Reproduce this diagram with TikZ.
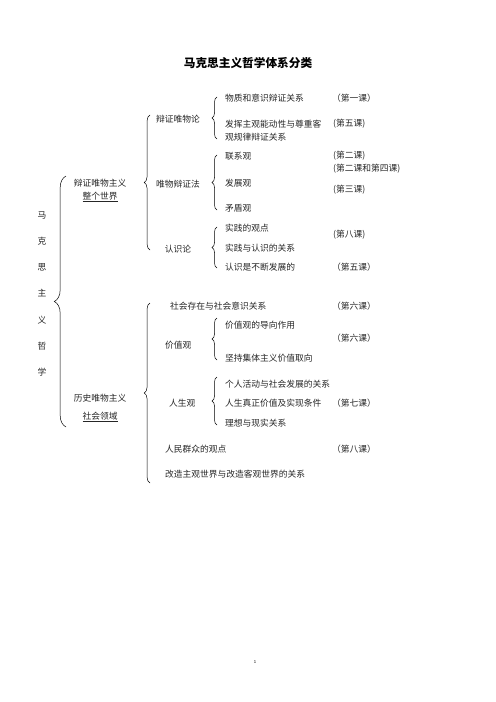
\documentclass[tikz,border=0pt]{standalone}
\usepackage{fontspec}
\setmainfont{Noto Sans CJK SC}
\usetikzlibrary{decorations.pathreplacing}
\begin{document}
\begin{tikzpicture}%
	[x=1.2pt, y=-1.2pt,
	item/.style={anchor=west, inner sep=0pt, font=\fontsize{10.5}{12}\selectfont, text=black!85},
	head/.style={anchor=center, inner sep=0pt, font=\fontsize{10.5}{12}\selectfont, text=black!85},
	lesson/.style={item},
	bigbrace/.style={decorate, decoration={brace, amplitude=14pt}, line width=0.6pt},
	midbrace/.style={decorate, decoration={brace, amplitude=7pt}, line width=0.6pt},
	subbrace/.style={decorate, decoration={brace, amplitude=6pt}, line width=0.6pt}]
	%
	\useasboundingbox (0,0) rectangle (496,702);
	%
	%% Title and page number
	%%
	\node[inner sep=0pt, font=\fontsize{14}{16}\selectfont\bfseries] (title) at (248,63) {马克思主义哲学体系分类};
	\node[inner sep=0pt, font=\fontsize{5}{6}\selectfont] (page) at (255,662) {1};
	%%
	%% Root, written top to bottom
	%%
	\foreach \ch [count=\i] in {马,克,思,主,义,哲,学}
		\node[head] (zhexue-\i) at (42, 188.8+26.17*\i) {\ch};
	%%
	%% Coordinates of the braces
	%%
	\coordinate (root-top) at (66,176);
	\coordinate (root-bot) at (66,427);
	\coordinate (bz-top) at (150,115);
	\coordinate (bz-bot) at (150,250);
	\coordinate (ls-top) at (150,303);
	\coordinate (ls-bot) at (150,483);
	\coordinate (wwl-top) at (217,97);
	\coordinate (wwl-bot) at (217,139);
	\coordinate (bzf-top) at (217,155);
	\coordinate (bzf-bot) at (217,210);
	\coordinate (rsl-top) at (217,227);
	\coordinate (rsl-bot) at (217,268);
	\coordinate (jzg-top) at (217,318);
	\coordinate (jzg-bot) at (217,360);
	\coordinate (rsg-top) at (217,377);
	\coordinate (rsg-bot) at (217,425);
	%%
	%% Drawing the braces
	%%
	\draw[bigbrace] (root-bot) -- (root-top);
	\draw[midbrace] (bz-bot) -- (bz-top);
	\draw[midbrace] (ls-bot) -- (ls-top);
	\draw[subbrace] (wwl-bot) -- (wwl-top);
	\draw[subbrace] (bzf-bot) -- (bzf-top);
	\draw[subbrace] (rsl-bot) -- (rsl-top);
	\draw[subbrace] (jzg-bot) -- (jzg-top);
	\draw[subbrace] (rsg-bot) -- (rsg-top);
	%%
	%% Dialectical materialism
	%%
	\node[head] (bianzheng) at (100,183) {辩证唯物主义};
	\node[head] (zhengge) at (100,197) {\underline{整个世界}};
	\node[head] (weiwulun) at (178,119) {辩证唯物论};
	\node[head] (bianzhengfa) at (178,184) {唯物辩证法};
	\node[head] (renshilun) at (178,249) {认识论};
	%
	\node[item] (wuzhi) at (225,98) {物质和意识辩证关系};
	\node[item, align=left, font=\fontsize{10.5}{15.6}\selectfont] (fahui) at (225,130.5) {发挥主观能动性与尊重客\\观规律辩证关系};
	\node[item] (lianxi) at (225,156) {联系观};
	\node[item] (fazhan) at (225,183) {发展观};
	\node[item] (maodun) at (225,208) {矛盾观};
	\node[item] (shijian) at (225,228) {实践的观点};
	\node[item] (guanxi) at (225,248) {实践与认识的关系};
	\node[item] (buduan) at (225,267) {认识是不断发展的};
	%
	\node[lesson] (ke-1) at (332,98) {（第一课）};
	\node[lesson] (ke-5a) at (333,124) {(第五课)};
	\node[lesson] (ke-2) at (333,156) {(第二课)};
	\node[lesson] (ke-24) at (333,169) {(第二课和第四课)};
	\node[lesson] (ke-3) at (333,190) {(第三课)};
	\node[lesson] (ke-8a) at (333,235) {(第八课)};
	\node[lesson] (ke-5b) at (332,267) {（第五课）};
	%%
	%% Historical materialism
	%%
	\node[head] (lishi) at (100,398) {历史唯物主义};
	\node[head] (shehui) at (100,417) {\underline{社会领域}};
	\node[item] (cunzai) at (170,306) {社会存在与社会意识关系};
	\node[item] (jiazhiguan) at (165,345) {价值观};
	\node[item] (renshengguan) at (169,403) {人生观};
	\node[item] (qunzhong) at (165,449) {人民群众的观点};
	\node[item] (gaizao) at (165,474) {改造主观世界与改造客观世界的关系};
	%
	\node[item] (daoxiang) at (225,325) {价值观的导向作用};
	\node[item] (jiti) at (225,358) {坚持集体主义价值取向};
	\node[item] (geren) at (225,384) {个人活动与社会发展的关系};
	\node[item] (zhenzheng) at (225,403) {人生真正价值及实现条件};
	\node[item] (lixiang) at (225,423) {理想与现实关系};
	%
	\node[lesson] (ke-6a) at (332,306) {（第六课）};
	\node[lesson] (ke-6b) at (332,338) {（第六课）};
	\node[lesson] (ke-7) at (332,403) {（第七课）};
	\node[lesson] (ke-8b) at (332,449) {（第八课）};
	%%
\end{tikzpicture}
\end{document}
